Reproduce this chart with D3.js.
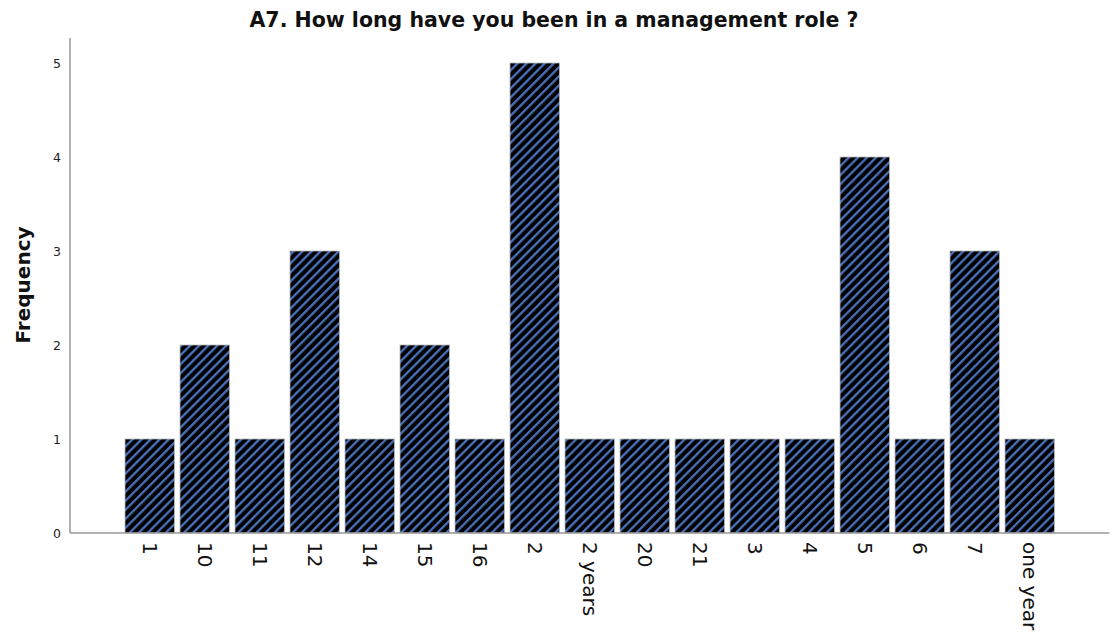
<!DOCTYPE html>
<html>
<head>
<meta charset="utf-8">
<script src="https://cdn.jsdelivr.net/npm/d3@7"></script>
<style>
  html, body { margin: 0; padding: 0; background: #fff; }
  svg { display: block; }
</style>
</head>
<body>
<svg id="chart" width="1112" height="640"></svg>
<script>
// Responses to A7 and their counts
const categories = ["1", "10", "11", "12", "14", "15", "16", "2", "2 years", "20", "21", "3", "4", "5", "6", "7", "one year"];
const frequencies = [1, 2, 1, 3, 1, 2, 1, 5, 1, 1, 1, 1, 1, 4, 1, 3, 1];
const yTicks = [0, 1, 2, 3, 4, 5];

const svg = d3.select("#chart");
const plotLeft = 70, plotRight = 1109.5, plotTop = 63, plotBottom = 533;

// Diagonal hatch fill for the bars
const defs = svg.append("defs");
const pat = defs.append("pattern")
  .attr("id", "hatch")
  .attr("patternUnits", "userSpaceOnUse")
  .attr("width", 6.4)
  .attr("height", 6.4)
  .attr("patternTransform", "rotate(45)");
pat.append("rect").attr("width", 6.4).attr("height", 6.4).attr("fill", "#000");
pat.append("line")
  .attr("x1", 1.2).attr("y1", 0).attr("x2", 1.2).attr("y2", 6.4)
  .attr("stroke", "#4f77c4").attr("stroke-width", 2.2);

const x = d3.scaleBand()
  .domain(categories)
  .range([plotLeft, plotRight])
  .paddingInner(0.1)
  .paddingOuter(1);

const y = d3.scaleLinear()
  .domain([0, 5])
  .range([plotBottom, plotTop]);

// Bars
svg.append("g")
  .selectAll("rect")
  .data(categories)
  .join("rect")
  .attr("x", d => x(d))
  .attr("width", x.bandwidth())
  .attr("y", (d, i) => y(frequencies[i]))
  .attr("height", (d, i) => y(0) - y(frequencies[i]))
  .attr("fill", "url(#hatch)")
  .attr("stroke", "#b8b8b8")
  .attr("stroke-width", 0.8);

// Y axis
const yAxis = svg.append("g")
  .attr("transform", `translate(${plotLeft},0)`)
  .call(d3.axisLeft(y).tickValues(yTicks).tickFormat(d3.format("d")).tickSize(0).tickPadding(9));
yAxis.select(".domain").remove();
yAxis.selectAll("text")
  .attr("font-family", "DejaVu Sans, sans-serif")
  .attr("font-size", 12.5)
  .attr("fill", "#222");
svg.append("line")
  .attr("x1", plotLeft).attr("x2", plotLeft)
  .attr("y1", 38).attr("y2", plotBottom)
  .attr("stroke", "#999").attr("stroke-width", 1.5);

// X axis with vertical labels
const xAxis = svg.append("g")
  .attr("transform", `translate(0,${plotBottom})`)
  .call(d3.axisBottom(x).tickSize(0).tickPadding(0));
xAxis.select(".domain").remove();
xAxis.selectAll("text")
  .attr("font-family", "DejaVu Sans, sans-serif")
  .attr("font-size", 20)
  .attr("fill", "#111")
  .attr("dy", null)
  .attr("y", 0)
  .attr("text-anchor", "start")
  .attr("dominant-baseline", "central")
  .attr("transform", "translate(0,9) rotate(90)");
svg.append("line")
  .attr("x1", plotLeft).attr("x2", plotRight)
  .attr("y1", plotBottom).attr("y2", plotBottom)
  .attr("stroke", "#999").attr("stroke-width", 1.5);

// Title
svg.append("text")
  .attr("x", 554)
  .attr("y", 27)
  .attr("text-anchor", "middle")
  .attr("font-family", "DejaVu Sans, sans-serif")
  .attr("font-weight", "bold")
  .attr("font-size", 20.5)
  .attr("fill", "#111")
  .text("A7. How long have you been in a management role ?");

// Y axis title
svg.append("text")
  .attr("transform", "translate(30,285) rotate(-90)")
  .attr("text-anchor", "middle")
  .attr("font-family", "DejaVu Sans, sans-serif")
  .attr("font-weight", "bold")
  .attr("font-size", 20)
  .attr("fill", "#111")
  .text("Frequency");
</script>
</body>
</html>
